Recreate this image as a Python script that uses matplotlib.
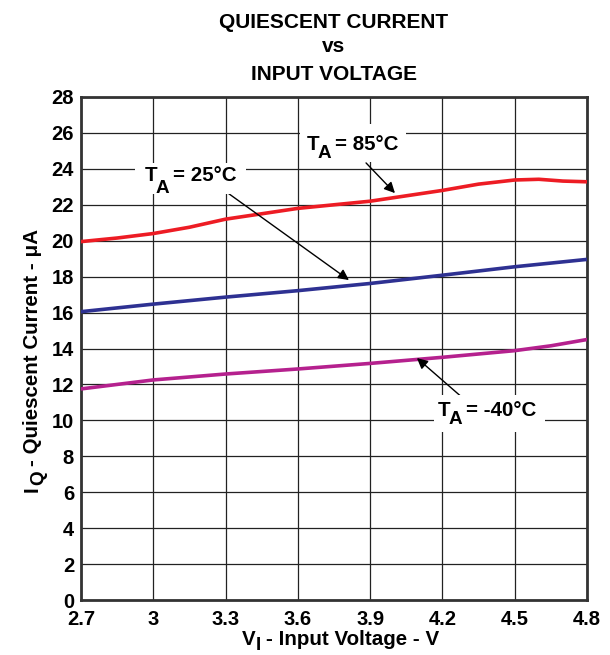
import matplotlib
matplotlib.use("Agg")
import matplotlib.pyplot as plt
from matplotlib.patches import Rectangle

plt.rcParams['font.family'] = ['Liberation Sans', 'DejaVu Sans']
plt.rcParams['font.weight'] = 'bold'

# Data
v_85 = [2.7, 2.85, 3.0, 3.15, 3.3, 3.45, 3.6, 3.75, 3.9, 4.05, 4.2, 4.35, 4.5, 4.6, 4.7, 4.8]
iq_85 = [19.95, 20.15, 20.4, 20.75, 21.2, 21.5, 21.8, 22.0, 22.2, 22.5, 22.8, 23.15, 23.38, 23.42, 23.32, 23.28]
v_25 = [2.7, 3.0, 3.3, 3.6, 3.9, 4.2, 4.5, 4.8]
iq_25 = [16.05, 16.47, 16.86, 17.22, 17.62, 18.08, 18.55, 18.96]
v_m40 = [2.7, 2.85, 3.0, 3.3, 3.6, 3.9, 4.2, 4.5, 4.65, 4.8]
iq_m40 = [11.75, 12.0, 12.25, 12.58, 12.86, 13.17, 13.51, 13.88, 14.15, 14.5]

x_ticks = [2.7, 3.0, 3.3, 3.6, 3.9, 4.2, 4.5, 4.8]
x_ticklabels = ['2.7', '3', '3.3', '3.6', '3.9', '4.2', '4.5', '4.8']
y_ticks = list(range(0, 29, 2))

title_lines = ['QUIESCENT CURRENT', 'vs', 'INPUT VOLTAGE']
label_85 = ('T', 'A', '= 85°C')
label_25 = ('T', 'A', '= 25°C')
label_m40 = ('T', 'A', '= -40°C')
xlabel_parts = ('V', 'I', '- Input Voltage - V')
ylabel_parts = ('I', 'Q', '- Quiescent Current - μA')

W, H = 610, 655
fig = plt.figure(figsize=(W / 100, H / 100), dpi=100)
ax = fig.add_axes([81 / W, 1 - 600 / H, (587 - 81) / W, (600 - 97) / H])

ax.plot(v_85, iq_85, color='#ED1C24', lw=2.6, zorder=3)
ax.plot(v_25, iq_25, color='#2E3192', lw=2.6, zorder=3)
ax.plot(v_m40, iq_m40, color='#B5218E', lw=2.6, zorder=3)

ax.set_xlim(2.7, 4.8)
ax.set_ylim(0, 28)
ax.set_xticks(x_ticks)
ax.set_xticklabels(x_ticklabels)
ax.set_yticks(y_ticks)
ax.grid(True, color='#222222', lw=0.9)
ax.tick_params(axis='both', length=0, labelsize=14.5)
ax.tick_params(axis='y', pad=5)
ax.tick_params(axis='x', pad=7)
for lab in ax.get_xticklabels() + ax.get_yticklabels():
    lab.set_fontweight('bold')
for s in ax.spines.values():
    s.set_linewidth(2)
    s.set_color('#333333')

renderer = fig.canvas.get_renderer()
FS = 14.8


def rich(x_px, y_px, parts, drop, gaps, sub_scale=0.92, rotation=0, fs=FS):
    """Place main text + large subscript + rest, starting at baseline point (x_px, y_px)."""
    main, sub, rest = parts
    pieces = [(main, fs, 0, 0), (sub, fs * sub_scale, drop, gaps[0]), (rest, fs, 0, gaps[1])]
    adv = 0.0
    for s, size, d, g in pieces:
        adv += g
        if rotation == 0:
            xx, yy = x_px + adv, y_px + d
        else:
            xx, yy = x_px + d, y_px - adv
        t = fig.text(xx / W, 1 - yy / H, s, fontsize=size, fontweight='bold',
                     ha='left', va='baseline', rotation=rotation,
                     rotation_mode='anchor', zorder=6)
        bb = t.get_window_extent(renderer)
        adv += bb.width if rotation == 0 else bb.height


def white_box(x0, y0, x1, y1):
    fig.add_artist(Rectangle((x0 / W, 1 - y1 / H), (x1 - x0) / W, (y1 - y0) / H,
                             transform=fig.transFigure, facecolor='white',
                             edgecolor='none', zorder=2))


# Title
cx = (81 + 587) / 2 / W
for line, base in zip(title_lines, [28, 52, 80]):
    fig.text(cx, 1 - base / H, line, ha='center', va='baseline', fontsize=15, fontweight='bold')

# Axis labels
rich(242, 645, xlabel_parts, drop=5, gaps=(0, 5))
rich(38, 492, ylabel_parts, drop=5, gaps=(1, 5), rotation=90)

# Curve labels
white_box(300, 124, 406, 162)
rich(307, 150, label_85, drop=8, gaps=(-2, 4))
white_box(135, 163, 246, 194)
rich(145, 181, label_25, drop=12, gaps=(-2, 4))
white_box(434, 395, 545, 432)
rich(438, 416, label_m40, drop=8, gaps=(-2, 4))

ap = dict(arrowstyle='-|>', color='black', lw=1, mutation_scale=16, shrinkA=0, shrinkB=0)
ax.annotate('', xy=(4.003, 22.65), xytext=(3.883, 24.33), arrowprops=ap, zorder=5)
ax.annotate('', xy=(3.812, 17.81), xytext=(3.31, 22.65), arrowprops=ap, zorder=5)
ax.annotate('', xy=(4.094, 13.47), xytext=(4.285, 11.24), arrowprops=ap, zorder=5)

fig.savefig('out.png', dpi=100)
